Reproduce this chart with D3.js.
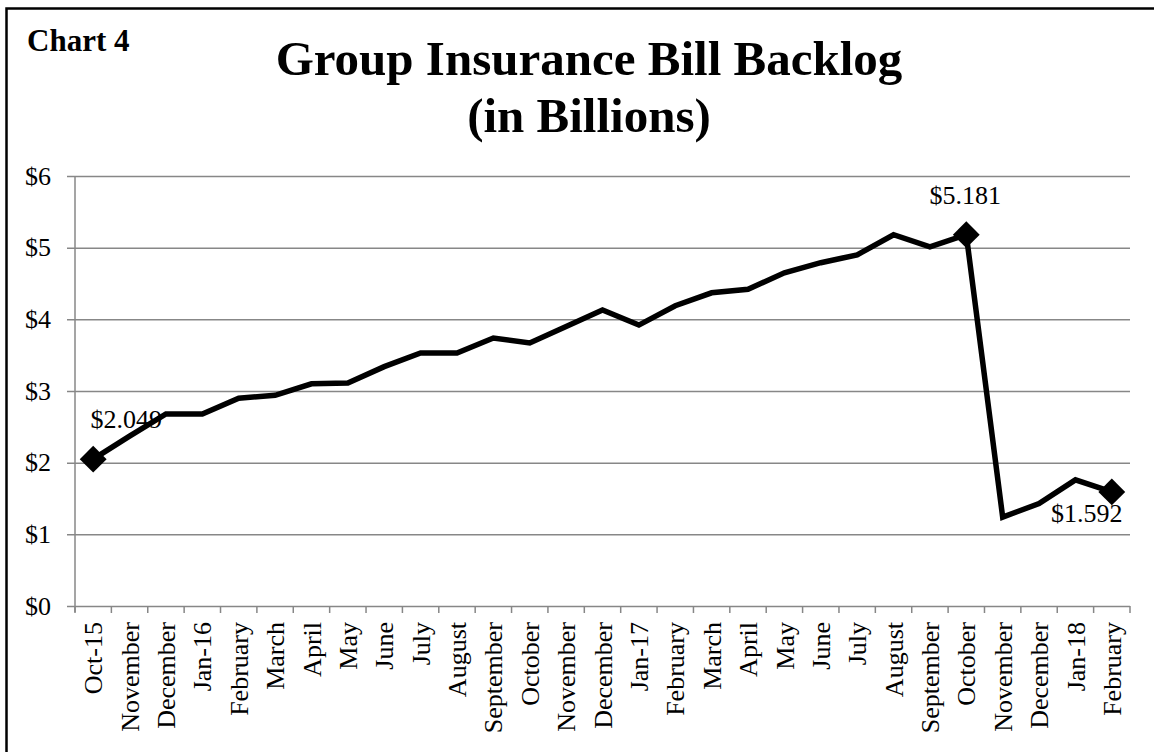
<!DOCTYPE html>
<html>
<head>
<meta charset="utf-8">
<script src="https://cdn.jsdelivr.net/npm/d3@7"></script>
<style>
  body { margin: 0; background: #fff; }
  svg { display: block; font-family: "Liberation Serif", "Times New Roman", serif; }
</style>
</head>
<body>
<div class="chart"></div>
<script>
"use strict";

const months = [
  "Oct-15", "November", "December", "Jan-16", "February", "March", "April",
  "May", "June", "July", "August", "September", "October", "November",
  "December", "Jan-17", "February", "March", "April", "May", "June", "July",
  "August", "September", "October", "November", "December", "Jan-18", "February"
];
// backlog in billions of dollars
const backlog = [
  2.049, 2.37, 2.68, 2.68, 2.90, 2.94, 3.10, 3.11, 3.34, 3.53, 3.53, 3.74,
  3.67, 3.90, 4.13, 3.92, 4.19, 4.37, 4.42, 4.65, 4.79, 4.90, 5.18, 5.01,
  5.181, 1.24, 1.43, 1.76, 1.592
];
const yTicks = [0, 1, 2, 3, 4, 5, 6];
// points that get a marker and a label (index into months)
const labelled = [0, 24, 28];

const width = 1154;
const height = 752;
const margin = { top: 176, right: 24, bottom: 146, left: 75 };
const innerW = width - margin.left - margin.right;
const innerH = height - margin.top - margin.bottom;

const svg = d3.select(".chart").append("svg")
  .attr("width", width)
  .attr("height", height);

// outer frame
svg.append("rect")
  .attr("x", 6.5).attr("y", 8.5)
  .attr("width", width + 20).attr("height", height + 20)
  .attr("fill", "none").attr("stroke", "#000").attr("stroke-width", 2.5);

svg.append("text")
  .attr("x", 27).attr("y", 51)
  .attr("font-size", 31).attr("font-weight", "bold")
  .text("Chart 4");

const title = svg.append("text")
  .attr("text-anchor", "middle")
  .attr("font-size", 49).attr("font-weight", "bold");
title.append("tspan").attr("x", 589).attr("y", 75).text("Group Insurance Bill Backlog");
title.append("tspan").attr("x", 589).attr("y", 132).text("(in Billions)");

const g = svg.append("g").attr("transform", `translate(${margin.left},${margin.top})`);

const x = d3.scaleBand().domain(d3.range(months.length)).range([0, innerW]).padding(0);
const y = d3.scaleLinear().domain([0, 6]).range([innerH, 0]);

// y axis + gridlines
const yAxis = g.append("g")
  .call(d3.axisLeft(y).tickValues(yTicks).tickFormat(d3.format("$")).tickSize(-innerW).tickPadding(24));
yAxis.select(".domain").remove();
yAxis.selectAll(".tick line")
  .attr("x1", -8).attr("x2", innerW)
  .attr("stroke", "#878787").attr("stroke-width", 1.5);
yAxis.selectAll(".tick text")
  .attr("font-family", "Liberation Serif").attr("font-size", 26).attr("fill", "#000");

g.append("line")
  .attr("x1", 0).attr("x2", 0).attr("y1", 0).attr("y2", innerH + 6)
  .attr("stroke", "#878787").attr("stroke-width", 1.5);

// x tick marks at category boundaries
const bounds = d3.range(months.length + 1);
g.append("g").selectAll("line")
  .data(bounds)
  .join("line")
  .attr("x1", (d) => (d < months.length ? x(d) : x.range()[1]))
  .attr("x2", (d) => (d < months.length ? x(d) : x.range()[1]))
  .attr("y1", innerH).attr("y2", innerH + 7)
  .attr("stroke", "#878787").attr("stroke-width", 1.5);

// x labels
const xAxis = g.append("g")
  .attr("transform", `translate(0,${innerH})`)
  .call(d3.axisBottom(x).tickFormat((i) => months[i]).tickSize(0));
xAxis.select(".domain").remove();
xAxis.selectAll(".tick text")
  .attr("font-family", "Liberation Serif").attr("font-size", 26).attr("fill", "#000")
  .attr("text-anchor", "end")
  .attr("transform", "rotate(-90)")
  .attr("x", -16).attr("y", 0).attr("dy", "0.35em");

// series line
const cx = (i) => x(i) + x.bandwidth() / 2;
const line = d3.line().x((d, i) => cx(i)).y((d) => y(d));
g.append("path")
  .datum(backlog)
  .attr("d", line)
  .attr("fill", "none")
  .attr("stroke", "#000")
  .attr("stroke-width", 5.5)
  .attr("stroke-linejoin", "miter");

// diamond markers
g.selectAll(".marker")
  .data(labelled)
  .join("path")
  .attr("class", "marker")
  .attr("d", d3.symbol(d3.symbolSquare, 360))
  .attr("transform", (i) => `translate(${cx(i)},${y(backlog[i])}) rotate(45)`)
  .attr("fill", "#000");

// data labels
const labelOffset = { 0: [33, -31], 24: [-1, -31], 28: [-25, 30] };
g.selectAll(".dlabel")
  .data(labelled)
  .join("text")
  .attr("class", "dlabel")
  .attr("text-anchor", "middle")
  .attr("font-size", 26)
  .attr("x", (i) => cx(i) + labelOffset[i][0])
  .attr("y", (i) => y(backlog[i]) + labelOffset[i][1])
  .text((i) => "$" + d3.format(".3f")(backlog[i]));
</script>
</body>
</html>
